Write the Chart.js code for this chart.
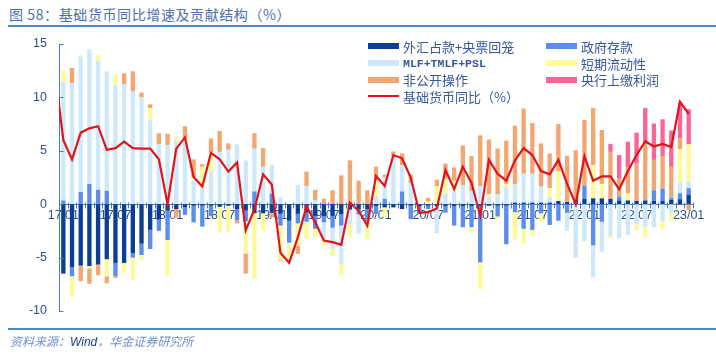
<!DOCTYPE html>
<html><head><meta charset="utf-8">
<script src="https://cdn.jsdelivr.net/npm/chart.js@4.4.1/dist/chart.umd.min.js"></script>
<style>
html,body{margin:0;padding:0;background:#fff;}
#wrap{position:relative;width:716px;height:355px;overflow:hidden;font-family:"Noto Sans CJK SC","Noto Sans",sans-serif;}
#chart{position:absolute;left:0;top:0;}
#title{position:absolute;left:9px;top:4px;font-size:14px;line-height:20px;color:#4d6fb3;letter-spacing:0.6px;white-space:nowrap;}
.rule{position:absolute;left:8px;right:0;height:2px;background:#4a88c7;}
#src{position:absolute;left:10px;top:333px;font-size:12px;line-height:16px;font-style:italic;color:#6d8fcf;white-space:nowrap;}
#src b{font-weight:normal;color:#1e3f8e;font-family:"Liberation Sans",sans-serif;}
#legend{position:absolute;left:0;top:0;}
.li{position:absolute;height:16px;display:flex;align-items:center;white-space:nowrap;font-size:13px;color:#35589f;}
.mk{display:inline-block;width:31px;margin-right:4px;}
.mono{font-family:"Liberation Mono",monospace;font-size:11.5px;font-weight:bold;}
</style></head>
<body>
<div id="wrap">
  <div id="title">图 58：基础货币同比增速及贡献结构（%）</div>
  <div class="rule" style="top:25px"></div>
  <canvas id="chart" width="716" height="355"></canvas>
  <div id="legend"></div>
  <div class="rule" style="top:328px"></div>
  <div id="src">资料来源：<b>Wind</b>，华金证券研究所</div>
</div>
<script>
// ---- categories ----
const prevMonth = '16/12';
const months = ['17/01','17/02','17/03','17/04','17/05','17/06','17/07','17/08','17/09','17/10','17/11','17/12',
'18/01','18/02','18/03','18/04','18/05','18/06','18/07','18/08','18/09','18/10','18/11','18/12',
'19/01','19/02','19/03','19/04','19/05','19/06','19/07','19/08','19/09','19/10','19/11','19/12',
'20/01','20/02','20/03','20/04','20/05','20/06','20/07','20/08','20/09','20/10','20/11','20/12',
'21/01','21/02','21/03','21/04','21/05','21/06','21/07','21/08','21/09','21/10','21/11','21/12',
'22/01','22/02','22/03','22/04','22/05','22/06','22/07','22/08','22/09','22/10','22/11','22/12',
'23/01'];
const shownTickLabels = ['17/01','17/07','18/01','18/07','19/01','19/07','20/01','20/07','21/01','21/07','22/01','22/07','23/01'];
const yTicks = [-10,-5,0,5,10,15];

// ---- series (percentage points) ----
const fxBills = [-6.5,-5.9,-5.75,-5.8,-5.65,-5.15,-5.5,-5.5,-4.6,-3.7,-2.4,-1.45,
-0.6,-0.45,-0.3,-0.15,-0.15,-0.15,-0.25,-0.15,-0.45,-0.6,-0.85,-0.85,
-0.8,-0.9,-1.55,-0.9,-0.8,-1.1,-1.1,-1.1,-0.95,-0.5,-0.45,-0.45,
-0.2,-0.3,-0.3,-0.45,-0.15,-0.2,-0.15,-0.2,-0.2,-0.2,-0.2,-0.2,
-0.15,-0.15,-0.15,-0.15,0.15,0.15,0.15,0.15,0.15,0.3,0.2,0.45,
0.5,0.55,0.55,0.5,0.35,0.35,0.3,0.35,0.3,0.3,0.4,0.47,
0.9];
const govDeposit = [0.35,-0.85,1.15,1.9,1.35,1.25,-1.25,0,-0.4,-1.05,-1.8,-1.05,
-2.75,0,-0.7,-1.55,-1.95,-0.95,0,0,-1.05,-1.0,1.2,0,
1.0,-1.1,-2.05,-0.9,-0.85,-1.2,-0.6,-1.1,-1.05,0,-0.5,-1.1,
-0.7,0.5,0,1.2,-1.25,-0.7,-0.3,0,-0.6,-1.8,-1.95,-1.95,
-5.3,0,-1.0,-3.6,-0.75,-2.3,-2.4,-0.85,-1.95,-1.55,-0.8,0,
1.2,-3.85,-1.65,0,0.35,0,0,0,1.0,1.15,0.2,0.55,
0.6];
const mlfTmlfPsl = [11.05,11.35,12.65,12.6,12.1,11.2,11.15,11.25,10.55,10.0,7.85,5.6,
5.55,5.95,5.75,2.2,1.5,3.1,4.9,5.1,5.6,4.1,4.0,3.5,
2.65,0.65,0,1.8,1.7,0.4,-1.7,-2.0,-3.6,-1.4,-1.8,0,
0.8,2.05,4.55,2.45,1.95,0,0,-2.5,1.0,1.2,1.75,1.2,
1.7,0.7,0.9,1.6,1.7,2.7,2.7,1.5,0.55,0,-1.7,-5.0,
-3.45,-3.0,-2.8,-2.95,-3.2,-2.85,-1.9,-2.1,-2.15,-1.6,-0.8,1.0,
0.65];
const shortLiquidity = [1.1,-1.9,0.15,-0.2,0.5,-1.6,1.0,-0.9,-2.1,-0.5,1.15,0,
-3.35,0.4,0.35,0.3,2.0,1.75,-2.4,-2.5,0,-3.0,-6.15,-1.65,
0.1,-3.2,-1.65,-2.1,-1.6,-0.8,-0.5,-0.65,-0.95,-1.15,0,-1.85,
1.4,-0.9,0,0,0,0,0.25,1.7,1.4,1.0,0,-0.45,
-2.5,0.25,-0.25,0.3,-2.55,-1.4,-0.55,-0.75,0.8,2.8,0,0,
0,3.1,1.35,-0.2,0,0.65,-0.5,-1.0,0,-0.7,-0.75,3.15,
3.45];
const nonPublicOps = [0,1.4,-1.45,-1.45,-1.0,-0.65,-0.15,1.0,1.9,0.45,0.35,1.05,
1.05,-0.8,1.2,1.7,0.25,1.3,1.95,0.6,-0.3,-1.9,1.45,1.75,
-0.4,-0.1,0,-0.75,1.35,0.95,0.5,1.3,2.7,4.1,2.2,1.3,
1.3,0.2,0.4,1.1,0.85,0,0.35,0.6,1.4,1.25,3.75,3.3,
4.75,5.1,4.3,4.05,5.5,6.1,4.75,4.05,3.25,4.4,4.3,4.6,
6.2,5.35,5.05,4.4,1.75,2.45,3.5,5.55,2.85,3.05,2.9,1.0,
-0.55];
const pbocProfit = [0,0,0,0,0,0,0,0,0,0,0,0,
0,0,0,0,0,0,0,0,0,0,0,0,
0,0,0,0,0,0,0,0,0,0,0,0,
0,0,0,0,0,0,0,0,0,0,0,0,
0,0,0,0,0,0,0,0,0,0,0,0,
0,0,0,0.75,2.15,2.4,2.9,3.1,3.4,3.45,3.4,3.3,
3.3];
const baseMoneyPrev = 12.6; // value for prevMonth, line enters from the left edge
const baseMoneyYoY = [6.0,4.2,6.7,7.1,7.3,5.1,5.25,5.85,5.25,5.2,5.2,4.2,
0.0,5.2,6.25,2.55,1.65,4.8,4.2,3.05,3.9,-2.45,-0.5,2.8,
1.85,-4.55,-5.5,-3.1,-0.2,-1.7,-3.4,-3.55,-3.8,0.15,-0.6,-2.0,
2.65,1.7,4.6,4.3,2.5,-0.8,-0.75,-0.4,3.2,1.4,3.5,2.0,
-1.1,4.15,2.85,2.2,4.1,5.25,4.6,3.1,2.8,4.15,1.9,0.0,
4.5,2.2,2.6,2.6,1.4,3.1,4.6,5.9,5.4,5.65,5.35,9.6,
8.45];

// ---- styling ----
const axisColor = '#4a78c2';
const tickColor = '#2d4f93';
const seriesDefs = [
  {label:'外汇占款+央票回笼', data:fxBills, color:'#0b3f94'},
  {label:'政府存款', data:govDeposit, color:'#5b8def'},
  {label:'MLF+TMLF+PSL', data:mlfTmlfPsl, color:'#cce8fa'},
  {label:'短期流动性', data:shortLiquidity, color:'#fdfb97'},
  {label:'非公开操作', data:nonPublicOps, color:'#f3a670'},
  {label:'央行上缴利润', data:pbocProfit, color:'#fb6595'}
];
const lineDef = {label:'基础货币同比（%）', color:'#e3121b'};

const allLabels = [prevMonth].concat(months);
const datasets = seriesDefs.map(s => ({
  type:'bar', label:s.label, data:[null].concat(s.data), backgroundColor:s.color,
  borderWidth:0, stack:'s', order:2, categoryPercentage:1.0, barPercentage:0.5
}));
datasets.push({
  type:'line', label:lineDef.label, data:[baseMoneyPrev].concat(baseMoneyYoY),
  borderColor:lineDef.color, borderWidth:2.2, pointRadius:0, tension:0, fill:false, order:0
});

const tickMarks = {
  id:'tickMarks',
  afterDraw(chart){
    const {ctx, scales:{x, y}, chartArea} = chart;
    ctx.save();
    ctx.strokeStyle = axisColor; ctx.lineWidth = 1;
    const y0 = Math.round(y.getPixelForValue(0)) + 0.5;
    ctx.beginPath();
    for (let i = x.min; i <= x.max + 1; i++) {
      const px = Math.round(x.getPixelForValue(i - 0.5)) + 0.5;
      ctx.moveTo(px, y0 - 2); ctx.lineTo(px, y0 + 4);
    }
    const lx = Math.round(chartArea.left) + 0.5;
    yTicks.forEach(v => {
      const py = Math.round(y.getPixelForValue(v)) + 0.5;
      ctx.moveTo(lx, py); ctx.lineTo(lx + 4, py);
    });
    ctx.stroke();
    ctx.restore();
  }
};

const chart = new Chart(document.getElementById('chart'), {
  data:{labels:allLabels, datasets},
  options:{
    responsive:false, animation:false, devicePixelRatio:1,
    layout:{padding:{left:29, right:23, top:44, bottom:44}},
    plugins:{legend:{display:false}, tooltip:{enabled:false}, title:{display:false}},
    scales:{
      x:{
        type:'category', min:months[0], max:months[months.length-1], offset:true, stacked:true,
        position:{y:0}, z:1,
        grid:{display:false, drawTicks:false},
        border:{display:true, color:axisColor, width:1},
        afterFit(s){ s.height = 0; },
        ticks:{
          autoSkip:false, maxRotation:0, minRotation:0, padding:4, color:tickColor,
          font:{family:'"Liberation Sans", Arial, sans-serif', size:12.5},
          callback(v){ const l = this.getLabelForValue(v); return shownTickLabels.includes(l) ? l : ''; }
        }
      },
      y:{
        stacked:true, min:-10, max:15,
        grid:{display:false, drawTicks:false},
        border:{display:true, color:axisColor, width:1},
        afterFit(s){ s.width = 30; },
        ticks:{
          stepSize:5, padding:12, color:tickColor,
          font:{family:'"Liberation Sans", Arial, sans-serif', size:12.5}
        }
      }
    }
  },
  plugins:[tickMarks]
});

// ---- HTML legend built from the chart's datasets ----
(function(){
  const lg = document.getElementById('legend');
  const cols = [368, 546];
  const rows = [38, 55, 71.5, 88];
  const items = chart.data.datasets.map(d => ({
    label:d.label, color:d.type === 'line' ? d.borderColor : d.backgroundColor, line:d.type === 'line'
  }));
  items.forEach((it, k) => {
    const el = document.createElement('div');
    el.className = 'li';
    el.style.left = cols[k % 2] + 'px';
    el.style.top = rows[Math.floor(k / 2)] + 'px';
    const mk = document.createElement('span');
    mk.className = 'mk';
    mk.style.height = it.line ? '2px' : '6px';
    mk.style.background = it.color;
    const tx = document.createElement('span');
    tx.textContent = it.label;
    if (it.label === 'MLF+TMLF+PSL') tx.className = 'mono';
    el.appendChild(mk); el.appendChild(tx);
    lg.appendChild(el);
  });
})();
</script>
</body></html>
